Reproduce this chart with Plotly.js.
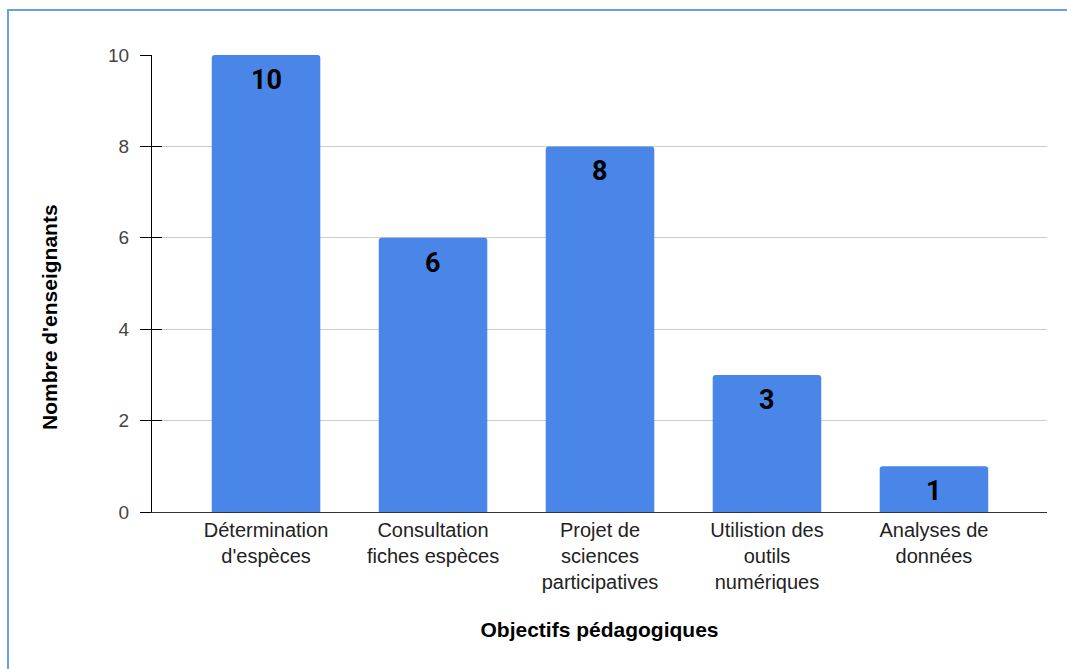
<!DOCTYPE html>
<html>
<head>
<meta charset="utf-8">
<script src="https://cdn.plot.ly/plotly-3.0.1.min.js"></script>
<style>
  html, body { margin: 0; padding: 0; background: #ffffff; overflow: hidden; }
  #frame { position: absolute; left: 7px; top: 9px; width: 1100px; height: 700px;
           border: 2px solid #6aa1dd; box-sizing: border-box; pointer-events: none; }
  #chart { position: absolute; left: 0; top: 0; width: 1067px; height: 669px; }
</style>
</head>
<body>
<div id="frame"></div>
<div id="chart"></div>
<script>
const categories = [
  "Détermination<br>d'espèces",
  "Consultation<br>fiches espèces",
  "Projet de<br>sciences<br>participatives",
  "Utilistion des<br>outils<br>numériques",
  "Analyses de<br>données"
];
const values = [10, 6, 8, 3, 1];
const yTicks = [0, 2, 4, 6, 8, 10];
const xTitle = "Objectifs pédagogiques";
const yTitle = "Nombre d'enseignants";

const xIdx = categories.map((c, i) => i);

const trace = {
  type: 'bar',
  x: xIdx,
  y: values,
  marker: { color: '#4a86e8', cornerradius: 3 },
  hoverinfo: 'skip'
};

// invisible copy on the overlay axis so its inner tick marks are drawn
const tickTrace = {
  type: 'bar',
  x: xIdx,
  y: values,
  yaxis: 'y2',
  marker: { color: 'rgba(0,0,0,0)' },
  hoverinfo: 'skip'
};

const annotations = values.map((v, i) => ({
  x: i, y: v, xref: 'x', yref: 'y',
  text: String(v), showarrow: false,
  yanchor: 'middle', yshift: -25,
  font: { family: 'Roboto', size: 27, color: '#000000', weight: 'bold' }
}));

annotations.push({
  x: -0.114, y: 0.4267, xref: 'paper', yref: 'paper',
  xanchor: 'center', yanchor: 'middle',
  text: yTitle, textangle: -90, showarrow: false,
  font: { family: 'Liberation Sans, Arial, sans-serif', size: 21, color: '#000000', weight: 'bold' }
});

const layout = {
  width: 1067, height: 669,
  margin: { l: 152, r: 20, t: 55, b: 157 },
  paper_bgcolor: 'rgba(0,0,0,0)',
  plot_bgcolor: 'rgba(0,0,0,0)',
  showlegend: false,
  bargap: 0.35,
  barmode: 'overlay',
  font: { family: 'Liberation Sans, Arial, sans-serif', color: '#222222' },
  xaxis: {
    range: [-0.683, 4.677],
    tickmode: 'array',
    tickvals: xIdx,
    ticktext: categories,
    ticks: '',
    tickfont: { size: 20, color: '#222222' },
    showgrid: false,
    showline: true, linecolor: '#333333', linewidth: 1,
    zeroline: false,
    fixedrange: true,
    automargin: false,
    title: { text: xTitle, standoff: 30,
             font: { family: 'Liberation Sans, Arial, sans-serif', size: 21, color: '#000000', weight: 'bold' } }
  },
  yaxis: {
    range: [0, 10],
    tickmode: 'array',
    tickvals: yTicks,
    ticks: 'outside', ticklen: 11, tickcolor: '#000000', tickwidth: 1,
    ticklabelstandoff: 7,
    tickfont: { size: 19, color: '#444444' },
    showgrid: true, gridcolor: '#cccccc', gridwidth: 1,
    showline: true, linecolor: '#000000', linewidth: 1,
    zeroline: false,
    fixedrange: true,
    automargin: false
  },
  yaxis2: {
    overlaying: 'y', anchor: 'x', side: 'left',
    range: [0, 10],
    tickmode: 'array', tickvals: yTicks,
    ticks: 'inside', ticklen: 10, tickcolor: '#000000', tickwidth: 1,
    showticklabels: false, showgrid: false, showline: false, zeroline: false,
    fixedrange: true
  },
  annotations: annotations
};

Plotly.newPlot('chart', [trace, tickTrace], layout, { displayModeBar: false, staticPlot: true });
</script>
</body>
</html>
